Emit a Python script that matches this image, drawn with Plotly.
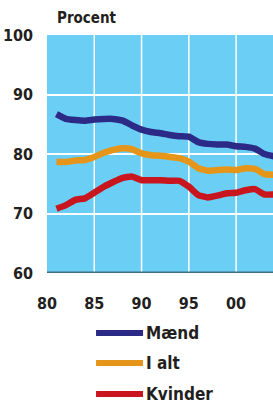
import plotly.graph_objects as go

years = list(range(1981, 2005))
maend = [86.7, 85.9, 85.7, 85.6, 85.8, 85.9, 85.9, 85.6, 84.8, 84.1, 83.7, 83.5,
         83.2, 83.0, 82.9, 82.0, 81.7, 81.6, 81.6, 81.3, 81.2, 80.9, 80.0, 79.6]
i_alt = [78.7, 78.65, 78.9, 79.0, 79.5, 80.2, 80.7, 80.95, 80.8, 80.1, 79.8, 79.7,
         79.5, 79.3, 78.7, 77.6, 77.2, 77.3, 77.4, 77.3, 77.6, 77.5, 76.6, 76.5]
kvinder = [70.8, 71.4, 72.3, 72.55, 73.5, 74.5, 75.3, 76.0, 76.2, 75.6, 75.6, 75.6,
           75.5, 75.5, 74.5, 73.1, 72.7, 73.0, 73.4, 73.5, 73.9, 74.1, 73.2, 73.2]

series_names = ["Mænd", "I alt", "Kvinder"]
series_values = [maend, i_alt, kvinder]
colors = ["#2B2A87", "#E5961A", "#C8151E"]

x_tickvals = [1980, 1985, 1990, 1995, 2000]
x_ticktext = ["80", "85", "90", "95", "00"]
y_tickvals = [60, 70, 80, 90, 100]

FONT = "DejaVu Sans Condensed, sans-serif"
TXT = "#231F20"

fig = go.Figure()
for name, vals, col in zip(series_names, series_values, colors):
    fig.add_trace(go.Scatter(x=years, y=vals, mode="lines", name=name,
                             line=dict(color=col, width=6.5, shape="spline", smoothing=0.4),
                             showlegend=False))

# vertical white grid lines
for xv in x_tickvals[1:]:
    fig.add_shape(type="line", xref="x", yref="paper", x0=xv, x1=xv, y0=0, y1=1,
                  line=dict(color="white", width=1.5), layer="below")

# legend drawn manually
leg_y = [-0.252, -0.378, -0.508]
for name, col, ly in zip(series_names, colors, leg_y):
    fig.add_shape(type="line", xref="paper", yref="paper", x0=0.217, x1=0.425,
                  y0=ly, y1=ly, line=dict(color=col, width=6))
    fig.add_annotation(xref="paper", yref="paper", x=0.428, y=ly, text="<b>%s</b>" % name,
                       showarrow=False, xanchor="left", yanchor="middle",
                       font=dict(family=FONT, size=17, color=TXT))

fig.add_annotation(xref="paper", yref="paper", x=0.035, y=1.071, text="<b>Procent</b>",
                   showarrow=False, xanchor="left", yanchor="middle",
                   font=dict(family=FONT, size=15, color=TXT))

fig.update_layout(
    width=273, height=408,
    margin=dict(l=47, r=0, t=35, b=135),
    paper_bgcolor="white",
    plot_bgcolor="#6BCFF5",
    showlegend=False,
    xaxis=dict(range=[1980, 2003.9], tickvals=x_tickvals, ticktext=x_ticktext,
               showgrid=False, zeroline=False, showline=False,
               ticks="", ticklabelstandoff=19,
               tickfont=dict(family=FONT, size=16, color=TXT, weight="bold"),
               fixedrange=True),
    yaxis=dict(range=[60, 100], tickvals=y_tickvals,
               showgrid=True, gridcolor="white", gridwidth=2,
               zeroline=False, showline=False, ticks="", ticklabelstandoff=13,
               tickfont=dict(family=FONT, size=16, color=TXT, weight="bold"),
               fixedrange=True),
)

# dark bottom axis line
fig.add_shape(type="line", xref="paper", yref="y", x0=0, x1=1, y0=60, y1=60,
              line=dict(color="#3F6F85", width=3))

fig.write_html("out.html", config={"displayModeBar": False},
               post_script="document.body.style.margin='0';document.body.style.overflow='hidden';")
